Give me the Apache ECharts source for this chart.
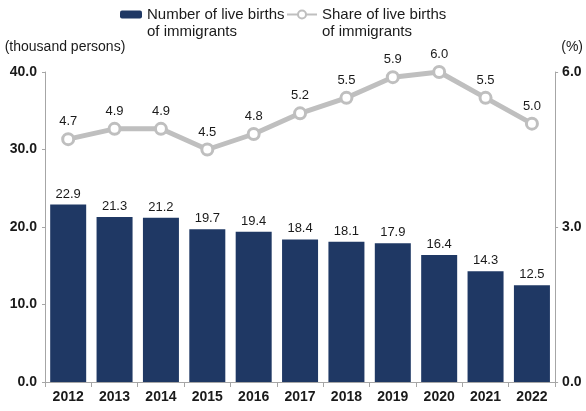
<!DOCTYPE html>
<html>
<head>
<meta charset="utf-8">
<script src="https://cdn.jsdelivr.net/npm/echarts@6/dist/echarts.min.js"></script>
<style>html,body{margin:0;padding:0;background:#fff}#c{width:586px;height:411px}</style>
</head>
<body>
<div id="c"></div>
<script>
var years = ['2012','2013','2014','2015','2016','2017','2018','2019','2020','2021','2022'];
var births = [22.9, 21.3, 21.2, 19.7, 19.4, 18.4, 18.1, 17.9, 16.4, 14.3, 12.5];
var share = [4.7, 4.9, 4.9, 4.5, 4.8, 5.2, 5.5, 5.9, 6.0, 5.5, 5.0];
var nameBirths = 'Number of live births\nof immigrants';
var nameShare = 'Share of live births\nof immigrants';

var NUMF = "'Liberation Sans', Arial, sans-serif";
var SANS = "'Liberation Sans', Arial, sans-serif";
var axisColor = '#a6a6a6';

var chart = echarts.init(document.getElementById('c'), null, {renderer: 'canvas'});
var legendText = {fontFamily: SANS, fontSize: 15, color: '#1a1a1a', lineHeight: 17};
chart.setOption({
  animation: false,
  backgroundColor: '#fff',
  grid: {left: 45, right: 28, top: 72, bottom: 29, containLabel: false},
  legend: [{
    data: [nameBirths],
    left: 120, top: -11, padding: 0,
    itemWidth: 22, itemHeight: 8,
    formatter: function (n) { return '\n' + n; },
    textStyle: legendText
  }, {
    data: [nameShare],
    left: 286, top: -11, padding: 0,
    itemWidth: 30, itemHeight: 10,
    formatter: function (n) { return '\n' + n; },
    textStyle: legendText
  }],
  xAxis: {
    type: 'category', data: years,
    axisLine: {lineStyle: {color: axisColor}},
    axisTick: {show: true, length: 5, lineStyle: {color: axisColor}},
    axisLabel: {interval: 0, fontFamily: NUMF, fontSize: 14, fontWeight: 'bold', color: '#1a1a1a', margin: 8}
  },
  yAxis: [{
    type: 'value', min: 0, max: 40, interval: 10,
    name: '(thousand persons)', nameLocation: 'end', nameGap: 18,
    nameTextStyle: {fontFamily: SANS, fontSize: 14, color: '#1a1a1a', align: 'center', padding: [0, 0, 0, 40]},
    axisLine: {show: true, lineStyle: {color: axisColor}},
    axisTick: {show: true, length: 3, lineStyle: {color: axisColor}},
    splitLine: {show: false},
    axisLabel: {fontFamily: NUMF, fontSize: 14, fontWeight: 'bold', color: '#1a1a1a', margin: 8,
      formatter: function (v) { return v.toFixed(1); }}
  }, {
    type: 'value', min: 0, max: 6, interval: 3, position: 'right',
    name: '(%)', nameLocation: 'end', nameGap: 18,
    nameTextStyle: {fontFamily: SANS, fontSize: 14, color: '#1a1a1a', align: 'center', padding: [0, 0, 0, 34]},
    axisLine: {show: true, lineStyle: {color: axisColor}},
    axisTick: {show: true, length: 3, lineStyle: {color: axisColor}},
    splitLine: {show: false},
    axisLabel: {fontFamily: NUMF, fontSize: 14, fontWeight: 'bold', color: '#1a1a1a', margin: 7,
      formatter: function (v) { return v.toFixed(1); }}
  }],
  series: [{
    name: nameBirths, type: 'bar', data: births, barWidth: 36,
    itemStyle: {color: '#1f3864'},
    label: {show: true, position: 'top', distance: 4, fontFamily: NUMF, fontSize: 13, color: '#1a1a1a',
      formatter: function (p) { return p.value.toFixed(1); }}
  }, {
    name: nameShare, type: 'line', yAxisIndex: 1, data: share,
    symbol: 'circle', symbolSize: 11,
    lineStyle: {color: '#bfbfbf', width: 5},
    itemStyle: {color: '#ffffff', borderColor: '#bfbfbf', borderWidth: 3},
    label: {show: true, position: 'top', distance: 4, fontFamily: NUMF, fontSize: 13, color: '#1a1a1a',
      formatter: function (p) { return p.value.toFixed(1); }}
  }]
});
</script>
</body>
</html>
